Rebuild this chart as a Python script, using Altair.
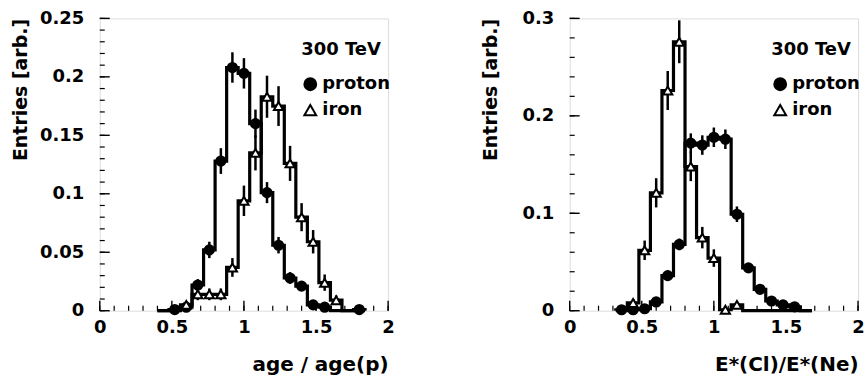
import altair as alt
import pandas as pd

# ---------------- data ----------------
BIN_WIDTH = 0.08

# left panel: age / age(p)
age_centers = [0.44, 0.52, 0.60, 0.68, 0.76, 0.84, 0.92, 1.00, 1.08, 1.16,
               1.24, 1.32, 1.40, 1.48, 1.56, 1.64, 1.72, 1.80]
age_proton = [0.0, 0.001, 0.003, 0.022, 0.052, 0.128, 0.208, 0.203, 0.160, 0.101,
              0.056, 0.028, 0.021, 0.005, 0.003, 0.0, 0.0, 0.001]
age_proton_err = [0.0, 0.001, 0.002, 0.005, 0.007, 0.011, 0.013, 0.013, 0.012, 0.009,
                  0.007, 0.005, 0.004, 0.002, 0.002, 0.0, 0.0, 0.001]
age_iron = [0.0, 0.0, 0.005, 0.014, 0.014, 0.014, 0.037, 0.094, 0.135, 0.183,
            0.175, 0.126, 0.080, 0.059, 0.024, 0.009, 0.0, 0.0]
age_iron_err = [0.0, 0.0, 0.003, 0.005, 0.005, 0.005, 0.008, 0.013, 0.015, 0.018,
                0.017, 0.015, 0.012, 0.010, 0.007, 0.004, 0.0, 0.0]

# right panel: E*(Cl)/E*(Ne)
e_centers = [0.36, 0.44, 0.52, 0.60, 0.68, 0.76, 0.84, 0.92, 1.00, 1.08,
             1.16, 1.24, 1.32, 1.40, 1.48, 1.56, 1.64]
e_proton = [0.001, 0.001, 0.002, 0.009, 0.036, 0.068, 0.172, 0.170, 0.178, 0.176,
            0.099, 0.044, 0.022, 0.010, 0.006, 0.004, 0.0]
e_proton_err = [0.001, 0.001, 0.001, 0.003, 0.005, 0.006, 0.010, 0.010, 0.010, 0.010,
                0.008, 0.005, 0.004, 0.003, 0.002, 0.002, 0.0]
e_iron = [0.0, 0.008, 0.062, 0.121, 0.226, 0.276, 0.148, 0.075, 0.054, 0.001,
          0.006, 0.0, 0.0, 0.0, 0.0, 0.0, 0.0]
e_iron_err = [0.0, 0.004, 0.010, 0.015, 0.020, 0.022, 0.015, 0.011, 0.009, 0.001,
              0.003, 0.0, 0.0, 0.0, 0.0, 0.0, 0.0]

x_ticks = [0, 0.5, 1, 1.5, 2]
x_minor = [round(i * 0.1, 2) for i in range(21)]
age_y_ticks = [0, 0.05, 0.1, 0.15, 0.2, 0.25]
age_y_minor = [round(i * 0.01, 2) for i in range(26)]
e_y_ticks = [0, 0.1, 0.2, 0.3]
e_y_minor = [round(i * 0.02, 2) for i in range(16)]

SERIES = ["proton", "iron"]
W, H = 289, 293
FONT = "DejaVu Sans"
MINOR, MAJOR = 5, 10


def step_frame(centers, values, name):
    rows = [{"x": centers[0] - BIN_WIDTH / 2, "y": 0.0, "i": 0, "series": name}]
    for k, (c, v) in enumerate(zip(centers, values)):
        rows.append({"x": c - BIN_WIDTH / 2, "y": v, "i": k + 1, "series": name})
    rows.append({"x": centers[-1] + BIN_WIDTH / 2, "y": 0.0, "i": len(centers) + 1, "series": name})
    return rows


def panel(centers, proton, proton_err, iron, iron_err, xtitle, ymax, yticks, yminor):
    steps = pd.DataFrame(step_frame(centers, proton, "proton") + step_frame(centers, iron, "iron"))
    pts = pd.DataFrame(
        [{"x": c, "y": v, "lo": v - e, "hi": v + e, "series": "proton"}
         for c, v, e in zip(centers, proton, proton_err)] +
        [{"x": c, "y": v, "lo": v - e, "hi": v + e, "series": "iron"}
         for c, v, e in zip(centers, iron, iron_err)]
    )
    pts = pts[pts["y"] > 0]

    xs = alt.Scale(domain=[0, 2], nice=False, zero=False)
    ys = alt.Scale(domain=[0, ymax], nice=False)

    main_x = alt.Axis(orient="bottom", values=x_ticks, format="~g", ticks=False, domain=False,
                      grid=False, labelFlush=False, labelFontSize=18, labelFontWeight="bold",
                      labelPadding=8, labelColor="black", labelFont=FONT,
                      title=xtitle, titleAnchor="end",
                      titleFontSize=20, titleFont=FONT, titleFontWeight="bold",
                      titleColor="black", titlePadding=18)
    main_y = alt.Axis(orient="left", values=yticks, format="~g", ticks=False, domain=False,
                      grid=False, labelFlush=False, labelFontSize=18, labelFontWeight="bold",
                      labelPadding=16, labelColor="black", labelFont=FONT,
                      title="Entries [arb.]", titleAnchor="end", titleX=-69,
                      titleBaseline="bottom", titleFontSize=19, titleFont=FONT,
                      titleFontWeight="bold", titleColor="black")

    lines = alt.Chart(steps).mark_line(interpolate="step-after", color="black",
                                       strokeWidth=3.2).encode(
        x=alt.X("x:Q", scale=xs, axis=main_x),
        y=alt.Y("y:Q", scale=ys, axis=main_y),
        detail="series:N",
        order="i:Q",
    )

    # inward tick marks along the bottom and left edges of the frame
    def xtick_layer(vals, size, width):
        return alt.Chart(pd.DataFrame({"x": vals})).mark_rule(
            color="black", strokeWidth=width).encode(
            x=alt.X("x:Q", scale=xs, axis=main_x),
            y=alt.value(H), y2=alt.value(H - size))

    def ytick_layer(vals, size, width):
        return alt.Chart(pd.DataFrame({"y": vals})).mark_rule(
            color="black", strokeWidth=width).encode(
            y=alt.Y("y:Q", scale=ys, axis=main_y),
            x=alt.value(0), x2=alt.value(size))

    ticks = [xtick_layer(x_minor, MINOR, 1.2), xtick_layer(x_ticks, MAJOR, 1.4),
             ytick_layer(yminor, MINOR, 1.2), ytick_layer(yticks, MAJOR, 1.4)]

    errs = alt.Chart(pts).mark_rule(color="black", strokeWidth=2.5).encode(
        x=alt.X("x:Q", scale=xs, axis=main_x),
        y=alt.Y("lo:Q", scale=ys, axis=main_y),
        y2="hi:Q",
    )
    leg = alt.Legend(title="300 TeV", orient="none", legendX=202, legendY=23,
                     titleFontSize=18, titleFont=FONT, titleFontWeight="bold",
                     titleColor="black", labelFontSize=18, labelFont=FONT,
                     labelFontWeight="bold",
                     labelColor="black", symbolSize=140,
                     symbolStrokeWidth=2, rowPadding=6, titlePadding=16, labelOffset=3)
    points = alt.Chart(pts).mark_point(filled=False, strokeWidth=2, size=85,
                                       opacity=1).encode(
        x=alt.X("x:Q", scale=xs, axis=main_x),
        y=alt.Y("y:Q", scale=ys, axis=main_y),
        shape=alt.Shape("series:N", scale=alt.Scale(domain=SERIES, range=["circle", "triangle-up"]),
                        legend=leg),
        fill=alt.Fill("series:N", scale=alt.Scale(domain=SERIES, range=["black", "white"]),
                      legend=leg),
        stroke=alt.Stroke("series:N", scale=alt.Scale(domain=SERIES, range=["black", "black"]),
                          legend=leg),
    )
    return alt.layer(lines, *ticks, errs, points).properties(width=W, height=H)


left = panel(age_centers, age_proton, age_proton_err, age_iron, age_iron_err,
             "age / age(p)", 0.25, age_y_ticks, age_y_minor)
right = panel(e_centers, e_proton, e_proton_err, e_iron, e_iron_err,
              "E*(Cl)/E*(Ne)", 0.3, e_y_ticks, e_y_minor)

chart = alt.hconcat(left, right, spacing=86).resolve_scale(
    shape="independent", fill="independent", stroke="independent"
).resolve_legend(shape="independent", fill="independent", stroke="independent").properties(
    padding={"left": 11, "top": 8, "right": 0, "bottom": 0},
    background="white",
).configure_view(stroke="black", strokeWidth=1.5).configure(font=FONT)

chart.save("out.html", embed_options={"renderer": "svg", "actions": False})
